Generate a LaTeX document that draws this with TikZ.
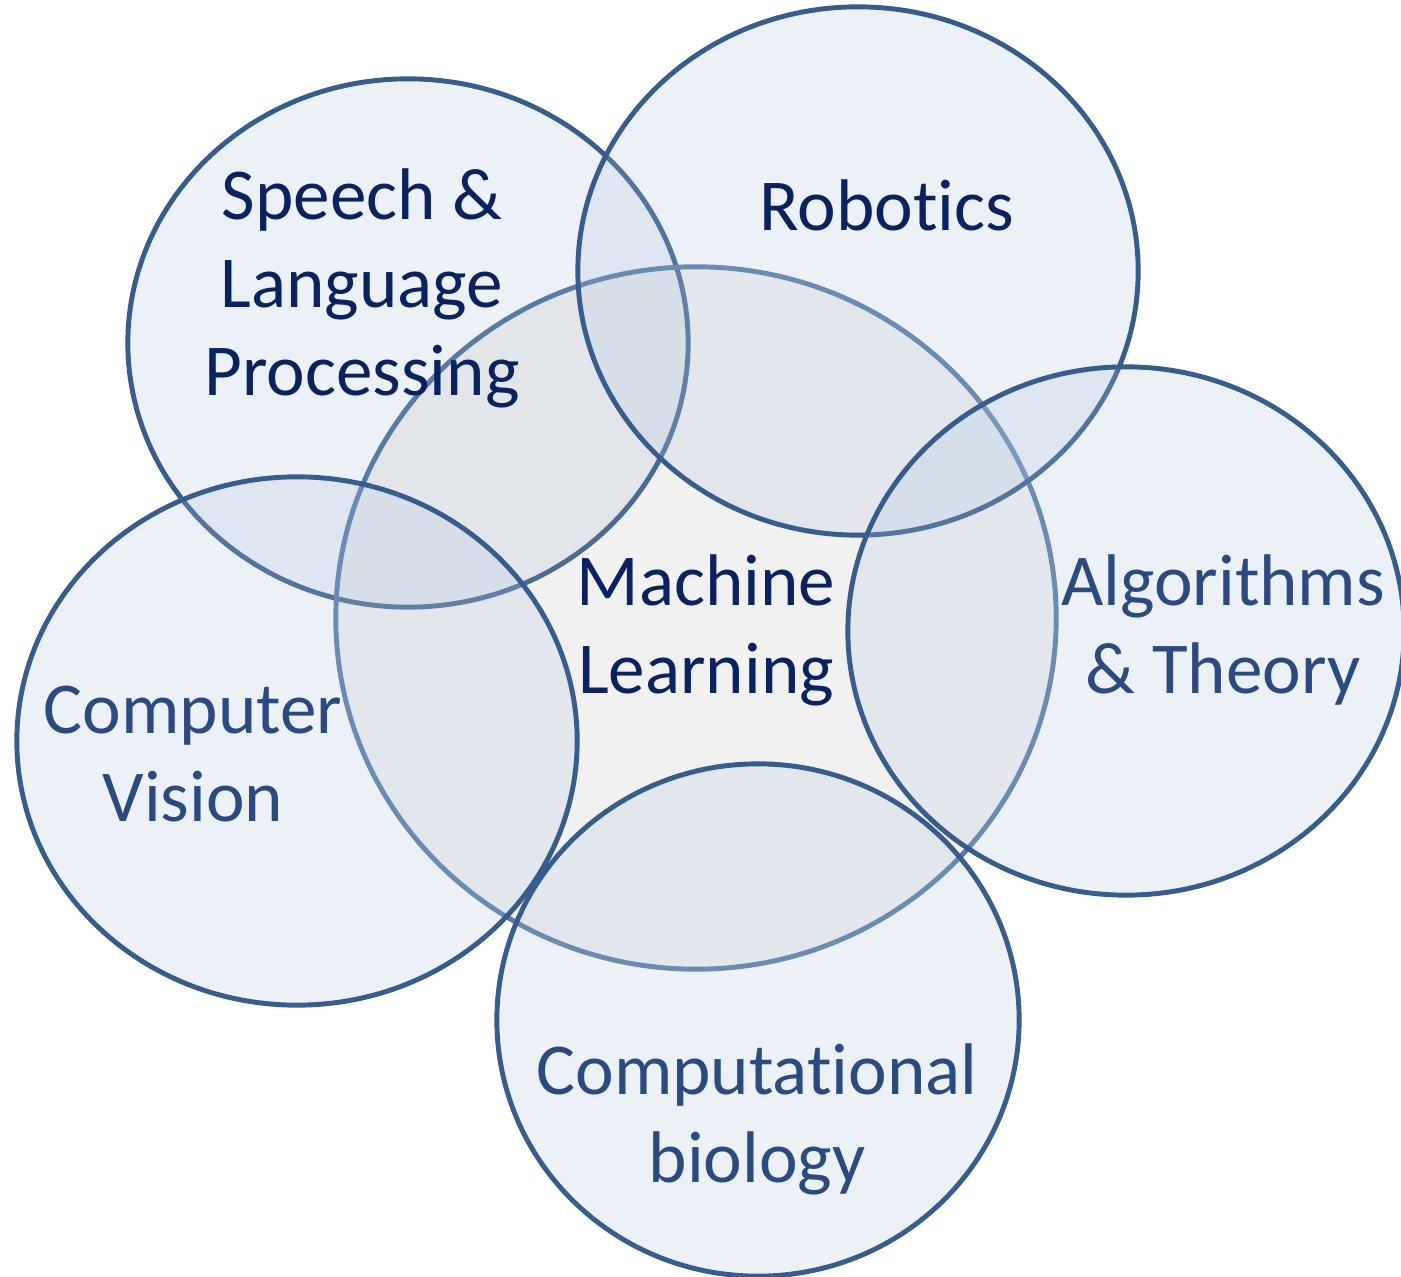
\documentclass[tikz,border=0pt]{standalone}
\usepackage{fontspec}
\setmainfont[Ligatures=NoCommon]{Carlito}
\usepackage{tikz}

\definecolor{ringedge}{RGB}{56,92,140}
\definecolor{coreedge}{RGB}{88,122,165}
\definecolor{ringfill}{RGB}{176,198,224}
\definecolor{corefill}{RGB}{177,177,177}
\definecolor{darktext}{RGB}{12,34,96}
\definecolor{softtext}{RGB}{44,74,128}

\begin{document}
\begin{tikzpicture}[x=0.01cm, y=0.01cm,
            field/.style={draw=ringedge, line width=1.4pt, fill=ringfill, fill opacity=0.23},
            core/.style={draw=coreedge, line width=1.4pt, fill=corefill, fill opacity=0.167},
            topic/.style={align=center, inner sep=0pt, font=\fontsize{20.8}{25}\selectfont},
            dark topic/.style={topic, text=darktext},
            soft topic/.style={topic, text=softtext}]

            % Page area
            \path[fill=white, use as bounding box] (0,0) rectangle (1401,-1277);

            % Circles, back to front
            \path[field] (408,-343) ellipse [x radius=2.80cm, y radius=2.64cm];
            \path[core] (696,-618) ellipse [x radius=3.60cm, y radius=3.51cm];
            \path[field] (858,-271) ellipse [x radius=2.80cm, y radius=2.64cm];
            \path[field] (1126,-631) ellipse [x radius=2.78cm, y radius=2.64cm];
            \path[field] (758,-1020) ellipse [x radius=2.61cm, y radius=2.56cm];
            \path[field] (297,-741) ellipse [x radius=2.80cm, y radius=2.64cm];

            % Field names
            \node[dark topic] (speech) at (362,-288) {Speech \&\\Language\\Processing};
            \node[dark topic, anchor=base] (robotics) at (887,-231) {Robotics};
            \node[dark topic] (ml) at (706,-630) {Machine\\Learning};
            \node[soft topic] (algo) at (1223,-630) {Algorithms\\\& Theory};
            \node[soft topic] (vision) at (193,-754) {Computer\\Vision};
            \node[soft topic] (biology) at (757,-1119) {Computational\\biology};
        \end{tikzpicture}
\end{document}
